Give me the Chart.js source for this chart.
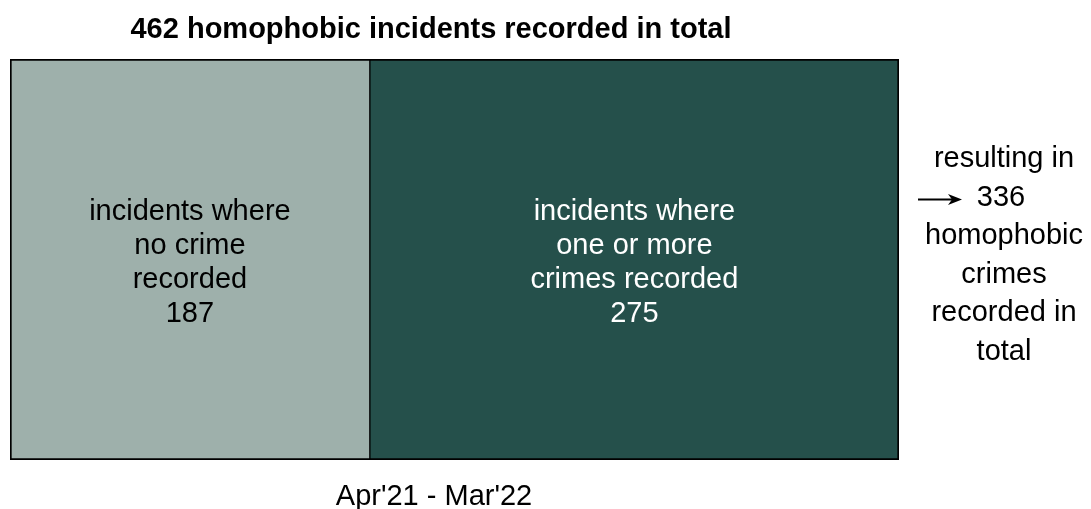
<!DOCTYPE html>
<html>
<head>
<meta charset="utf-8">
<script src="https://cdn.jsdelivr.net/npm/chart.js@4"></script>
<style>
  body { margin: 0; background: #fff; }
  #wrap { width: 1091px; height: 509px; }
</style>
</head>
<body>
<div id="wrap"><canvas id="chart" width="1091" height="509"></canvas></div>
<script>
const periods = ["Apr'21 - Mar'22"];
const noCrimeIncidents = [187];
const crimeIncidents = [275];
const crimesRecorded = [336];

const noCrimeLabel = ['incidents where', 'no crime', 'recorded'];
const crimeLabel = ['incidents where', 'one or more', 'crimes recorded'];
const resultLabel = ['resulting in', '', 'homophobic', 'crimes', 'recorded in', 'total'];

const totalIncidents = noCrimeIncidents[0] + crimeIncidents[0];
const FONT = '"Liberation Sans", Arial, sans-serif';

// text around and inside the bar
const annotations = {
  id: 'annotations',
  beforeDatasetsDraw(chart) {
    const ctx = chart.ctx;
    ctx.save();
    ctx.shadowColor = 'rgba(0,0,0,0.25)';
    ctx.shadowOffsetX = 1;
    ctx.shadowOffsetY = 1;
    ctx.shadowBlur = 1;
  },
  afterDatasetsDraw(chart) {
    chart.ctx.restore();
  },
  afterDraw(chart) {
    const ctx = chart.ctx;
    const area = chart.chartArea;
    const cy = (area.top + area.bottom) / 2;
    ctx.save();
    ctx.textAlign = 'center';
    ctx.textBaseline = 'alphabetic';

    // title
    ctx.fillStyle = '#000';
    ctx.font = 'bold 29px ' + FONT;
    ctx.fillText(totalIncidents + ' homophobic incidents recorded in total', 431, 38);

    // segment labels
    ctx.font = '29px ' + FONT;
    const segs = [
      { meta: chart.getDatasetMeta(0), lines: noCrimeLabel, value: noCrimeIncidents[0], color: '#000' },
      { meta: chart.getDatasetMeta(1), lines: crimeLabel, value: crimeIncidents[0], color: '#fff' }
    ];
    segs.forEach(s => {
      const p = s.meta.data[0].getCenterPoint();
      const lines = s.lines.concat([String(s.value)]);
      ctx.fillStyle = s.color;
      lines.forEach((t, i) => {
        ctx.fillText(t, p.x, p.y + (i - 1.5) * 34 + 11);
      });
    });

    // right side note
    ctx.fillStyle = '#000';
    const rx = area.right + 105;
    resultLabel.forEach((t, i) => {
      const txt = i === 1 ? String(crimesRecorded[0]) : t;
      const x = i === 1 ? rx - 3 : rx;
      ctx.fillText(txt, x, cy + (i - 2.5) * 38.6 + 4);
    });

    // arrow
    const ay = cy - 60;
    const ax0 = area.right + 19, ax1 = area.right + 63;
    ctx.strokeStyle = '#000';
    ctx.lineWidth = 2;
    ctx.beginPath();
    ctx.moveTo(ax0, ay);
    ctx.lineTo(ax1 - 8, ay);
    ctx.stroke();
    ctx.beginPath();
    ctx.moveTo(ax1, ay);
    ctx.lineTo(ax1 - 14, ay - 5.5);
    ctx.lineTo(ax1 - 10, ay);
    ctx.lineTo(ax1 - 14, ay + 5.5);
    ctx.closePath();
    ctx.fill();

    // period label
    ctx.font = '29px ' + FONT;
    ctx.fillText(periods[0], 434, 505);
    ctx.restore();
  }
};

new Chart(document.getElementById('chart'), {
  type: 'bar',
  data: {
    labels: periods,
    datasets: [
      {
        label: 'No crime recorded',
        data: noCrimeIncidents,
        backgroundColor: '#9eb0ab',
        borderColor: '#000',
        borderWidth: { left: 2, top: 2, bottom: 2, right: 1 },
        borderSkipped: false
      },
      {
        label: 'One or more crimes recorded',
        data: crimeIncidents,
        backgroundColor: '#25504b',
        borderColor: '#000',
        borderWidth: { left: 1, top: 2, bottom: 2, right: 2 },
        borderSkipped: false
      }
    ]
  },
  options: {
    indexAxis: 'y',
    responsive: false,
    animation: false,
    layout: { padding: { left: 10, right: 192, top: 59, bottom: 49 } },
    datasets: { bar: { barPercentage: 1, categoryPercentage: 1 } },
    scales: {
      x: { stacked: true, display: false, min: 0, max: totalIncidents },
      y: { stacked: true, display: false }
    },
    plugins: {
      legend: { display: false },
      tooltip: { enabled: false }
    }
  },
  plugins: [annotations]
});
</script>
</body>
</html>
